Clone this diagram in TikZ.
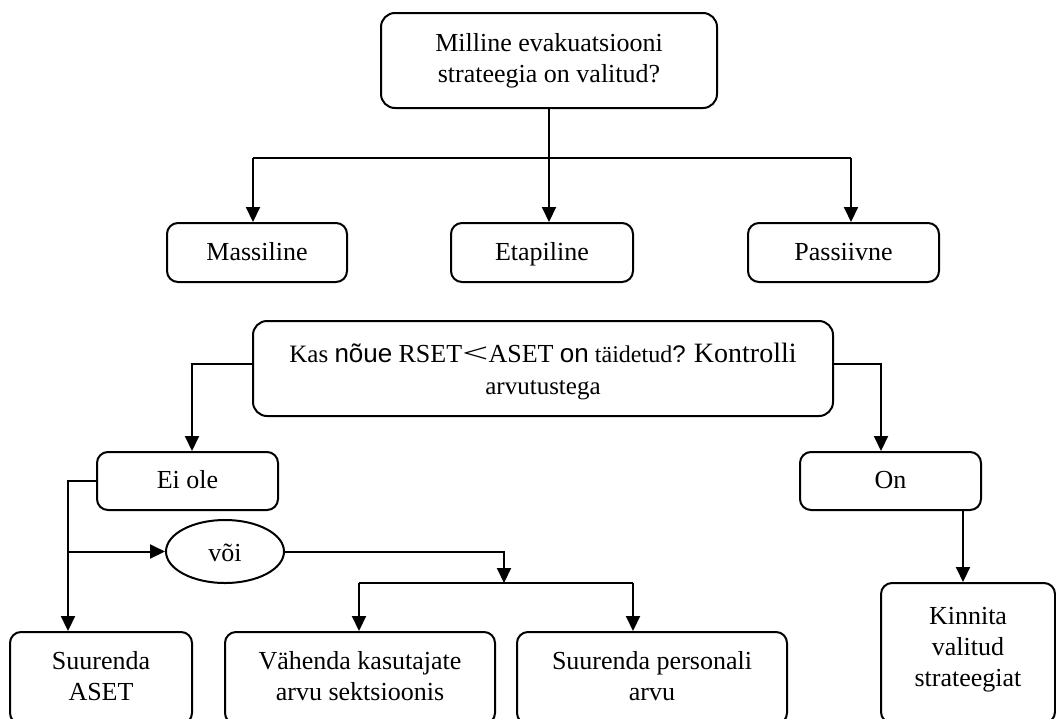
\documentclass[tikz,border=0pt]{standalone}
\usepackage{fontspec}
\usepackage{graphicx}
\setmainfont{Liberation Serif}
\newfontfamily\sansf{Liberation Sans}
\usetikzlibrary{arrows.meta,shapes.geometric}
\newcommand{\fs}[1]{\fontsize{#1}{32}\selectfont}
\newcommand{\dn}{\rule[-5pt]{0pt}{0pt}}
\begin{document}
\begin{tikzpicture}[x=1pt,y=-1pt,line width=2pt,
  box/.style={draw,rounded corners=11pt,align=center,inner sep=0pt,font=\fontsize{26}{31}\selectfont},
  one/.style={text height=20pt,text depth=5pt},
  arr/.style={-{Triangle[length=15pt,width=14pt]}},
  ell/.style={draw,ellipse,inner sep=0pt,font=\fontsize{26}{31}\selectfont}]
\clip (0,0) rectangle (1056,718);
% top part
\node[box,rounded corners=14pt,minimum width=336pt,minimum height=95pt] (top) at (549,60.5) {Milline evakuatsiooni\\strateegia on valitud?};
\node[box,one,minimum width=180pt,minimum height=59pt] (mass) at (257,252.5) {Massiline};
\node[box,one,minimum width=182pt,minimum height=59pt] (etap) at (542,252.5) {Etapiline};
\node[box,one,minimum width=191pt,minimum height=59pt] (pass) at (843.5,252.5) {Passiivne};
\coordinate (hl) at (253,158);
\coordinate (hr) at (851,158);
\draw (hl) -- (hr);
\draw[arr] (top.south) -- (top.south |- etap.north);
\draw[arr] (hl) -- (hl |- mass.north);
\draw[arr] (hr) -- (hr |- pass.north);
% middle
\node[box,rounded corners=14pt,minimum width=580pt,minimum height=95pt,font=\fontsize{25}{32}\selectfont] (mid) at (543,368.5)
 {\rule{0pt}{26pt}{\fs{25}Kas} {\sansf\fs{26}nõue} {\fs{26}RSET\scalebox{1.8}[1.05]{<}ASET} {\sansf\fs{26}on} {\fs{24}täidetud}{\sansf\fs{24}?} {\fs{28}Kontrolli}\\arvutustega};
\node[box,one,minimum width=181pt,minimum height=58pt] (eiole) at (187.5,481) {Ei ole};
\node[box,one,minimum width=181pt,minimum height=58pt] (on) at (890.5,481) {On};
\coordinate (ml) at (192,364);
\coordinate (mr) at (881,364);
\draw[arr] (mid.west |- ml) -- (ml) -- (ml |- eiole.north);
\draw[arr] (mid.east |- mr) -- (mr) -- (mr |- on.north);
% lower
\node[ell,text height=20pt,text depth=0pt,minimum width=118pt,minimum height=63pt] (voi) at (225,551.5) {või};
\node[box,minimum width=182pt,minimum height=92pt] (sa) at (101,678) {Suurenda\\ASET\dn};
\node[box,minimum width=270pt,minimum height=92pt] (vah) at (360,678) {Vähenda kasutajate\\arvu sektsioonis\dn};
\node[box,minimum width=270pt,minimum height=92pt] (sp) at (652,678) {Suurenda personali\\arvu\dn};
\node[box,minimum width=174pt,minimum height=140pt] (kin) at (968,653) {Kinnita\\valitud\\strateegiat\rule[-11.7pt]{0pt}{0pt}};
\coordinate (el) at (68,481);
\coordinate (j2) at (504,583);
\coordinate (bl) at (359,583);
\coordinate (br) at (633,583);
\coordinate (ko) at (963,0);
\draw[arr] (eiole.west) -- (el) -- (el |- sa.north);
\draw[arr] (el |- voi.west) -- (voi.west);
\draw[arr] (voi.east) -- (voi.east -| j2) -- (j2);
\draw (bl) -- (br);
\draw[arr] (bl) -- (bl |- vah.north);
\draw[arr] (br) -- (br |- sp.north);
\draw[arr] (ko |- on.south) -- (ko |- kin.north);
\end{tikzpicture}
\end{document}
